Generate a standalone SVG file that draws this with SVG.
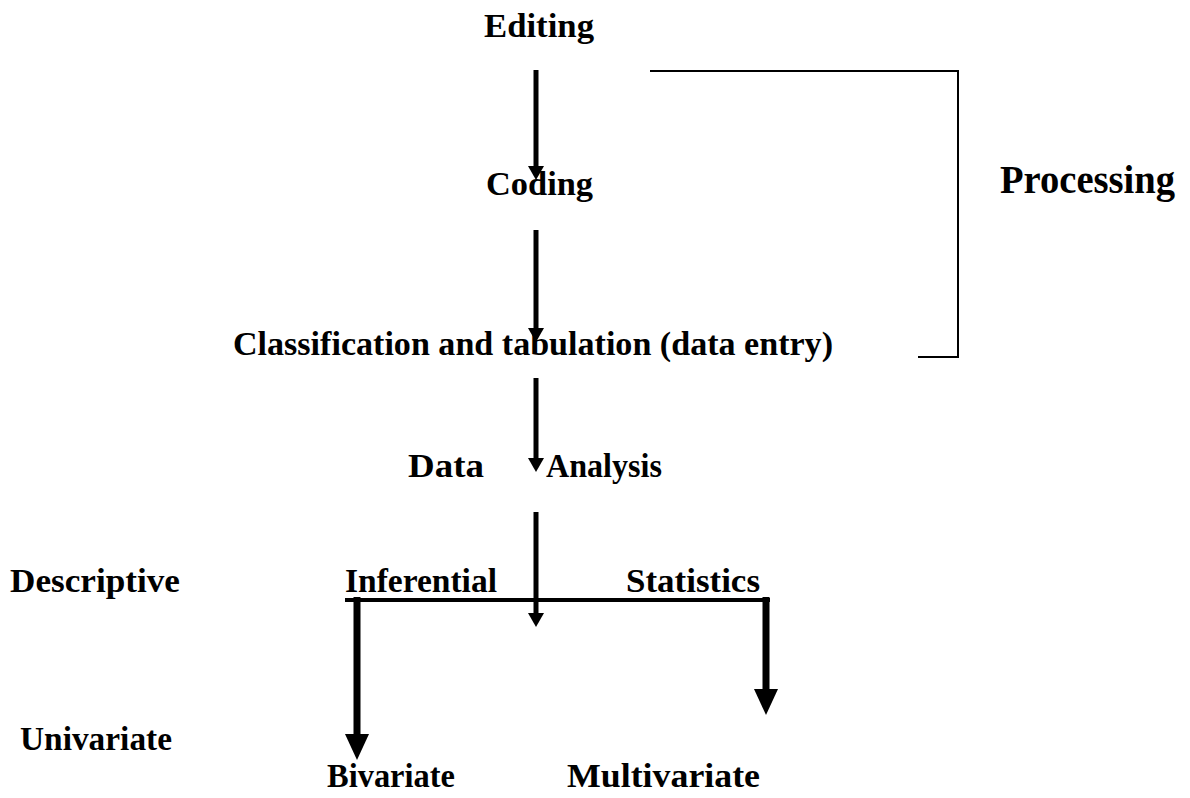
<svg xmlns="http://www.w3.org/2000/svg" width="1190" height="798" viewBox="0 0 1190 798">
<style>
text{font-family:"Liberation Serif","Times New Roman",serif;font-weight:bold;font-size:33px;fill:#000}
.big{font-size:39px}
.c{stroke:#000;fill:none}
.s{stroke-width:5}
.t{stroke-width:7}
</style>
<defs>
<marker id="hs" markerUnits="userSpaceOnUse" markerWidth="14" markerHeight="16" refX="0" refY="8" orient="auto"><path d="M0,0 L14,8 L0,16 z" fill="#000"/></marker>
<marker id="hb" markerUnits="userSpaceOnUse" markerWidth="26" markerHeight="24" refX="0" refY="12" orient="auto"><path d="M0,0 L26,12 L0,24 z" fill="#000"/></marker>
</defs>
<rect width="1190" height="798" fill="#fff"/>
<g id="connectors">
<line class="c s" x1="536" y1="70" x2="536" y2="166" marker-end="url(#hs)"/>
<line class="c s" x1="536" y1="230" x2="536" y2="328" marker-end="url(#hs)"/>
<line class="c s" x1="536" y1="378" x2="536" y2="458" marker-end="url(#hs)"/>
<line class="c s" x1="536" y1="512" x2="536" y2="613" marker-end="url(#hs)"/>
<line class="c" stroke-width="4" x1="345" y1="600" x2="770" y2="600"/>
<line class="c t" x1="357" y1="597" x2="357" y2="734" marker-end="url(#hb)"/>
<line class="c t" x1="766" y1="597" x2="766" y2="689" marker-end="url(#hb)"/>
<polyline class="c" stroke-width="2" points="650,71 958,71 958,357 918,357"/>
</g>
<g id="editing"><text x="484" y="37" textLength="110" lengthAdjust="spacingAndGlyphs">Editing</text></g>
<g id="coding"><text x="486" y="195" textLength="107" lengthAdjust="spacingAndGlyphs">Coding</text></g>
<g id="classification"><text x="233" y="355" textLength="600" lengthAdjust="spacingAndGlyphs">Classification and tabulation (data entry)</text></g>
<g id="processing"><text class="big" x="1000" y="193" textLength="175" lengthAdjust="spacingAndGlyphs">Processing</text></g>
<g id="data"><text x="408" y="477" textLength="76" lengthAdjust="spacingAndGlyphs">Data</text></g>
<g id="analysis"><text x="546" y="477" textLength="116" lengthAdjust="spacingAndGlyphs">Analysis</text></g>
<g id="descriptive"><text x="10" y="592" textLength="170" lengthAdjust="spacingAndGlyphs">Descriptive</text></g>
<g id="inferential"><text x="345" y="592" textLength="152" lengthAdjust="spacingAndGlyphs">Inferential</text></g>
<g id="statistics"><text x="626" y="592" textLength="134" lengthAdjust="spacingAndGlyphs">Statistics</text></g>
<g id="univariate"><text x="20" y="750" textLength="152" lengthAdjust="spacingAndGlyphs">Univariate</text></g>
<g id="bivariate"><text x="327" y="787" textLength="128" lengthAdjust="spacingAndGlyphs">Bivariate</text></g>
<g id="multivariate"><text x="567" y="787" textLength="193" lengthAdjust="spacingAndGlyphs">Multivariate</text></g>
</svg>
